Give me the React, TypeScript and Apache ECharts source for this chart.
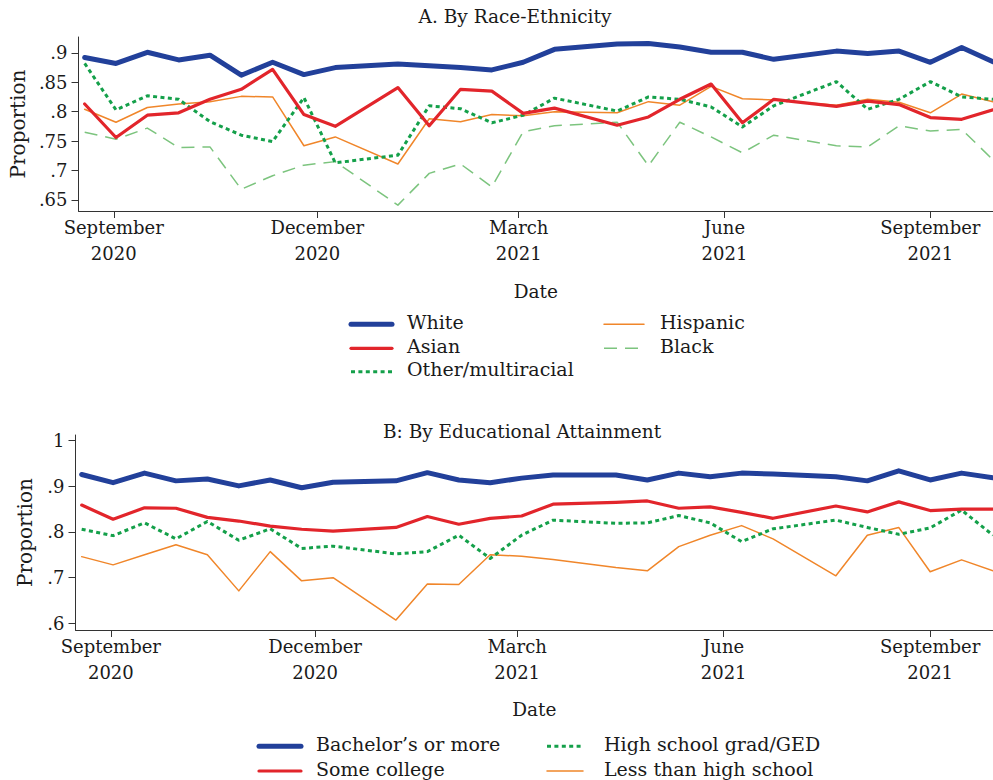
import React, { useEffect, useRef } from "react";
import * as echarts from "echarts";

// Survey week start dates (Household Pulse Survey)
const dates = [
  "2020-08-19", "2020-09-02", "2020-09-16", "2020-09-30", "2020-10-14", "2020-10-28",
  "2020-11-11", "2020-11-25", "2020-12-09", "2021-01-06", "2021-01-20", "2021-02-03",
  "2021-02-17", "2021-03-03", "2021-03-17", "2021-04-14", "2021-04-28", "2021-05-12",
  "2021-05-26", "2021-06-09", "2021-06-23", "2021-07-21", "2021-08-04", "2021-08-18",
  "2021-09-01", "2021-09-15", "2021-09-29",
];

// Panel A: by race-ethnicity
const raceWhite = [0.892, 0.882, 0.901, 0.888, 0.896, 0.862, 0.884, 0.863, 0.875, 0.881, 0.878, 0.875, 0.871, 0.884, 0.906, 0.915, 0.916, 0.910, 0.901, 0.901, 0.889, 0.903, 0.899, 0.903, 0.884, 0.909, 0.885];
const raceAsian = [0.813, 0.756, 0.794, 0.798, 0.821, 0.838, 0.872, 0.795, 0.775, 0.841, 0.776, 0.838, 0.835, 0.797, 0.806, 0.777, 0.791, 0.821, 0.847, 0.781, 0.821, 0.809, 0.818, 0.812, 0.790, 0.787, 0.803];
const raceOther = [0.882, 0.803, 0.827, 0.821, 0.783, 0.760, 0.749, 0.824, 0.713, 0.726, 0.810, 0.805, 0.781, 0.794, 0.823, 0.801, 0.825, 0.821, 0.808, 0.774, 0.810, 0.851, 0.804, 0.821, 0.851, 0.825, 0.821];
const raceHispanic = [0.804, 0.782, 0.807, 0.813, 0.817, 0.826, 0.825, 0.742, 0.757, 0.711, 0.788, 0.783, 0.795, 0.793, 0.800, 0.798, 0.817, 0.811, 0.843, 0.822, 0.820, 0.811, 0.821, 0.816, 0.798, 0.830, 0.817];
const raceBlack = [0.765, 0.753, 0.772, 0.739, 0.740, 0.668, 0.691, 0.709, 0.715, 0.641, 0.695, 0.711, 0.672, 0.766, 0.776, 0.782, 0.708, 0.782, 0.757, 0.730, 0.760, 0.742, 0.740, 0.776, 0.767, 0.770, 0.718];

// Panel B: by educational attainment
const eduBachelor = [0.926, 0.908, 0.929, 0.912, 0.916, 0.901, 0.914, 0.897, 0.909, 0.912, 0.930, 0.914, 0.908, 0.918, 0.925, 0.925, 0.914, 0.929, 0.921, 0.929, 0.927, 0.921, 0.912, 0.934, 0.914, 0.929, 0.919];
const eduSomeCollege = [0.859, 0.828, 0.853, 0.852, 0.832, 0.824, 0.813, 0.806, 0.802, 0.810, 0.834, 0.817, 0.830, 0.835, 0.861, 0.865, 0.868, 0.852, 0.855, 0.843, 0.830, 0.857, 0.844, 0.866, 0.847, 0.850, 0.850];
const eduHighSchool = [0.806, 0.792, 0.820, 0.785, 0.823, 0.782, 0.807, 0.764, 0.769, 0.752, 0.757, 0.793, 0.742, 0.793, 0.826, 0.819, 0.820, 0.836, 0.820, 0.779, 0.807, 0.826, 0.810, 0.795, 0.809, 0.848, 0.793];
const eduLessHS = [0.746, 0.728, 0.750, 0.772, 0.750, 0.671, 0.757, 0.693, 0.700, 0.607, 0.686, 0.685, 0.750, 0.747, 0.740, 0.722, 0.715, 0.768, 0.793, 0.814, 0.785, 0.704, 0.793, 0.810, 0.713, 0.739, 0.715];

// Axis ticks
const xTickDates = ["2020-09-01", "2020-12-01", "2021-03-01", "2021-06-01", "2021-09-01"];
const xTickLabels = ["September\n2020", "December\n2020", "March\n2021", "June\n2021", "September\n2021"];
const yTicksA = [0.65, 0.7, 0.75, 0.8, 0.85, 0.9];
const yTicksB = [0.6, 0.7, 0.8, 0.9, 1];

const FONT = "DejaVu Serif";
const TEXT = "#1a1a1a";
const DAY = 86400000;
const ts = (s: string) => {
  const [y, m, d] = s.split("-").map(Number);
  return Date.UTC(y, m - 1, d);
};
const X_MIN = ts("2020-09-01") - 15.75 * DAY;
const X_MAX = ts("2021-09-29");

const C_BLUE = "#22409a";
const C_RED = "#e2252b";
const C_GREEN = "#14a04a";
const C_ORANGE = "#f0862a";
const C_LGREEN = "#7cc47e";

type Spec = { name: string; data: number[]; color: string; width: number; dash: number[] | null };

const raceSeries: Spec[] = [
  { name: "White", data: raceWhite, color: C_BLUE, width: 5, dash: null },
  { name: "Asian", data: raceAsian, color: C_RED, width: 3.2, dash: null },
  { name: "Other/multiracial", data: raceOther, color: C_GREEN, width: 3, dash: [4, 3.4] },
  { name: "Hispanic", data: raceHispanic, color: C_ORANGE, width: 1.5, dash: null },
  { name: "Black", data: raceBlack, color: C_LGREEN, width: 1.5, dash: [13, 8] },
];
const eduSeries: Spec[] = [
  { name: "Bachelor\u2019s or more", data: eduBachelor, color: C_BLUE, width: 5, dash: null },
  { name: "Some college", data: eduSomeCollege, color: C_RED, width: 3.2, dash: null },
  { name: "High school grad/GED", data: eduHighSchool, color: C_GREEN, width: 3, dash: [4, 3.4] },
  { name: "Less than high school", data: eduLessHS, color: C_ORANGE, width: 1.5, dash: null },
];

const fmtY = (v: number) => {
  const s = String(+v.toFixed(2));
  return s.startsWith("0") ? s.slice(1) : s;
};

const xTickVals = xTickDates.map(ts);

function xAxisFor(gridIndex: number, gap: number) {
  return {
    type: "value",
    gridIndex,
    min: X_MIN,
    max: X_MAX,
    name: "Date",
    nameLocation: "middle",
    nameGap: gap,
    nameTextStyle: { fontFamily: FONT, fontSize: 18.5, color: TEXT },
    axisLine: { show: true, lineStyle: { color: "#333", width: 1 } },
    axisTick: { show: true, length: 7, customValues: xTickVals, lineStyle: { color: "#333" } },
    axisLabel: {
      customValues: xTickVals,
      formatter: (v: number) => {
        const i = xTickVals.indexOf(v);
        return i >= 0 ? xTickLabels[i] : "";
      },
      fontFamily: FONT,
      fontSize: 18,
      lineHeight: 26,
      color: TEXT,
      margin: 3,
    },
    splitLine: { show: false },
  };
}

function yAxisFor(gridIndex: number, min: number, max: number, ticks: number[], gap: number) {
  return {
    type: "value",
    gridIndex,
    min,
    max,
    name: "Proportion",
    nameLocation: "middle",
    nameRotate: 90,
    nameGap: gap,
    nameTextStyle: { fontFamily: FONT, fontSize: 20, color: TEXT },
    axisLine: { show: true, lineStyle: { color: "#333", width: 1 } },
    axisTick: { show: true, length: 7, customValues: ticks, lineStyle: { color: "#333" } },
    axisLabel: {
      customValues: ticks,
      formatter: (v: number) => fmtY(v),
      fontFamily: FONT,
      fontSize: 18,
      color: TEXT,
      margin: 11,
    },
    splitLine: { show: false },
  };
}

function seriesFor(specs: Spec[], idx: number) {
  // draw in reverse so the first (thickest) lies on top
  return specs
    .map((s, k) => ({
      type: "line",
      name: s.name,
      xAxisIndex: idx,
      yAxisIndex: idx,
      symbol: "none",
      showSymbol: false,
      z: 10 - k,
      data: dates.map((d, i) => [ts(d), s.data[i]]),
      lineStyle: {
        color: s.color,
        width: s.width,
        type: s.dash ? s.dash : "solid",
        join: "round",
        cap: s.dash ? "butt" : "round",
      },
      itemStyle: { color: s.color },
    }));
}

function legendFor(
  specs: Spec[],
  cols: { x0: number; x1: number; tx: number }[],
  rows: number[],
  order: [number, number][]
) {
  const els: any[] = [];
  specs.forEach((s, k) => {
    const [c, r] = order[k];
    const col = cols[c];
    const y = rows[r];
    els.push({
      type: "line",
      shape: { x1: col.x0, y1: y, x2: col.x1, y2: y },
      style: {
        stroke: s.color,
        lineWidth: s.width,
        lineDash: s.dash || null,
        lineCap: s.dash ? "butt" : "round",
      },
    });
    els.push({
      type: "text",
      x: col.tx,
      y: y - 2.5,
      style: {
        text: s.name,
        fontFamily: FONT,
        fontSize: 19,
        fill: TEXT,
        align: "left",
        verticalAlign: "middle",
        textAlign: "left",
        textVerticalAlign: "middle",
      },
    });
  });
  return els;
}

function titleText(text: string, x: number, y: number) {
  return {
    type: "text",
    x,
    y,
    style: {
      text,
      fontFamily: FONT,
      fontSize: 18.5,
      fill: TEXT,
      align: "center",
      verticalAlign: "middle",
      textAlign: "center",
      textVerticalAlign: "middle",
    },
  };
}

export default function App() {
  const ref = useRef<HTMLDivElement>(null);
  useEffect(() => {
    if (!ref.current) return;
    const chart = echarts.init(ref.current, undefined, { renderer: "svg" });
    const option: any = {
      animation: false,
      backgroundColor: "#ffffff",
      grid: [
        { left: 75.5, right: 0, top: 37, bottom: 780 - 211, containLabel: false },
        { left: 75.5, right: 0, top: 435, bottom: 780 - 630, containLabel: false },
      ],
      xAxis: [xAxisFor(0, 71), xAxisFor(1, 70)],
      yAxis: [
        yAxisFor(0, 0.631, 0.927, yTicksA, 48.5),
        yAxisFor(1, 0.5853, 1.0125, yTicksB, 40.5),
      ],
      series: [...seriesFor(raceSeries, 0), ...seriesFor(eduSeries, 1)],
      graphic: [
        titleText("A. By Race-Ethnicity", 515, 16),
        titleText("B: By Educational Attainment", 522, 431.5),
        ...legendFor(
          raceSeries,
          [
            { x0: 351, x1: 392, tx: 407 },
            { x0: 604, x1: 644, tx: 660 },
          ],
          [324.3, 348.3, 371.7],
          [[0, 0], [0, 1], [0, 2], [1, 0], [1, 1]]
        ),
        ...legendFor(
          eduSeries,
          [
            { x0: 259, x1: 301, tx: 316 },
            { x0: 547, x1: 583, tx: 604 },
          ],
          [746.2, 771],
          [[0, 0], [0, 1], [1, 0], [1, 1]]
        ),
      ],
    };
    chart.setOption(option);
    return () => chart.dispose();
  }, []);
  return (
    <div
      ref={ref}
      style={{ position: "absolute", left: 0, top: 0, width: 993, height: 780 }}
    />
  );
}
